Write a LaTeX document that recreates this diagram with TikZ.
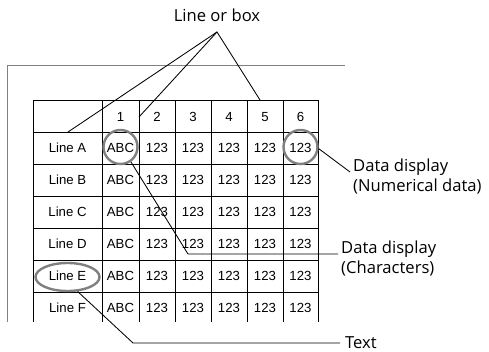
\documentclass[tikz,border=0pt]{standalone}
\usepackage{fontspec}
\usetikzlibrary{shapes.geometric}
\newfontfamily\lblfont{Open Sans}
\newfontfamily\tblfont{Liberation Sans}
\tikzset{
	cell/.style={font=\tblfont\fontsize{13.2}{15}\selectfont, inner sep=0pt},
	lbl/.style={font=\lblfont\fontsize{16.6}{20}\selectfont, align=left, inner sep=0pt},
	ring/.style={draw=black!50, line width=2.4pt, inner sep=0pt},
	lead/.style={draw, line width=0.85pt},
}

\begin{document}
\begin{tikzpicture}[x=1pt, y=-1pt]
	\useasboundingbox (0, 0) rectangle (489, 352);
	% Frame and grid:
	\draw[gray, line width=0.9pt] (7, 322) -- (7, 65) -- (345, 65);
	\foreach \y in {100, 132, 164, 196, 228, 260, 292}
		\draw[line width=0.85pt] (33, \y) -- (318, \y);
	\foreach \x in {33, 102, 139, 175, 211, 247, 283, 318}
		\draw[line width=0.85pt] (\x, 100) -- (\x, 322);
	% Cell texts:
	\foreach \c/\x in {1/120.5, 2/157, 3/193, 4/229, 5/265, 6/300.5}
		\node[cell] (head\c) at (\x, 117){\c};
	\foreach \r/\y in {A/148, B/180, C/212, D/244, E/276, F/308}{
		\node[cell] (line\r) at (67.5, \y){Line \r};
		\node[cell] (abc\r) at (120.5, \y){ABC};
		\foreach \c/\x in {2/157, 3/193, 4/229, 5/265, 6/300.5}
			\node[cell] (num\r\c) at (\x, \y){123};
	}
	% Rings:
	\node[ring, circle, minimum size=34pt] (ringabc) at (120.5, 147){};
	\node[ring, circle, minimum size=34pt] (ringnum) at (300.5, 147){};
	\node[ring, ellipse, minimum width=64pt, minimum height=28pt] (ringtxt) at (67.5, 277){};
	% Labels and leaders:
	\node[lbl] (lobox) at (217, 15){Line or box};
	\coordinate (apex) at (217, 32);
	\coordinate (boxa) at (68, 132);
	\coordinate (boxb) at (139, 117);
	\coordinate (boxc) at (260, 100);
	\draw[lead] (boxa) -- (apex) -- (boxc);
	\draw[lead] (boxb) -- (apex);
	\coordinate (numend) at (350, 172);
	\node[lbl, anchor=west] (numlbl) at ([xshift=3pt, yshift=-5pt]numend){Data display\\(Numerical data)};
	\draw[lead] (ringnum.-5) -- (numend);
	\coordinate (charbend) at (188, 254);
	\coordinate (charend) at (338, 254);
	\node[lbl, anchor=west] (charlbl) at ([xshift=3pt, yshift=-5pt]charend){Data display\\(Characters)};
	\draw[lead] (ringabc.-55) -- (charbend) -- (charend);
	\coordinate (txtbend) at (133, 343);
	\coordinate (txtend) at (340, 343);
	\node[lbl, anchor=west] (txtlbl) at ([xshift=5pt]txtend){Text};
	\draw[lead] (ringtxt.-55) -- (txtbend) -- (txtend);
\end{tikzpicture}
\end{document}
